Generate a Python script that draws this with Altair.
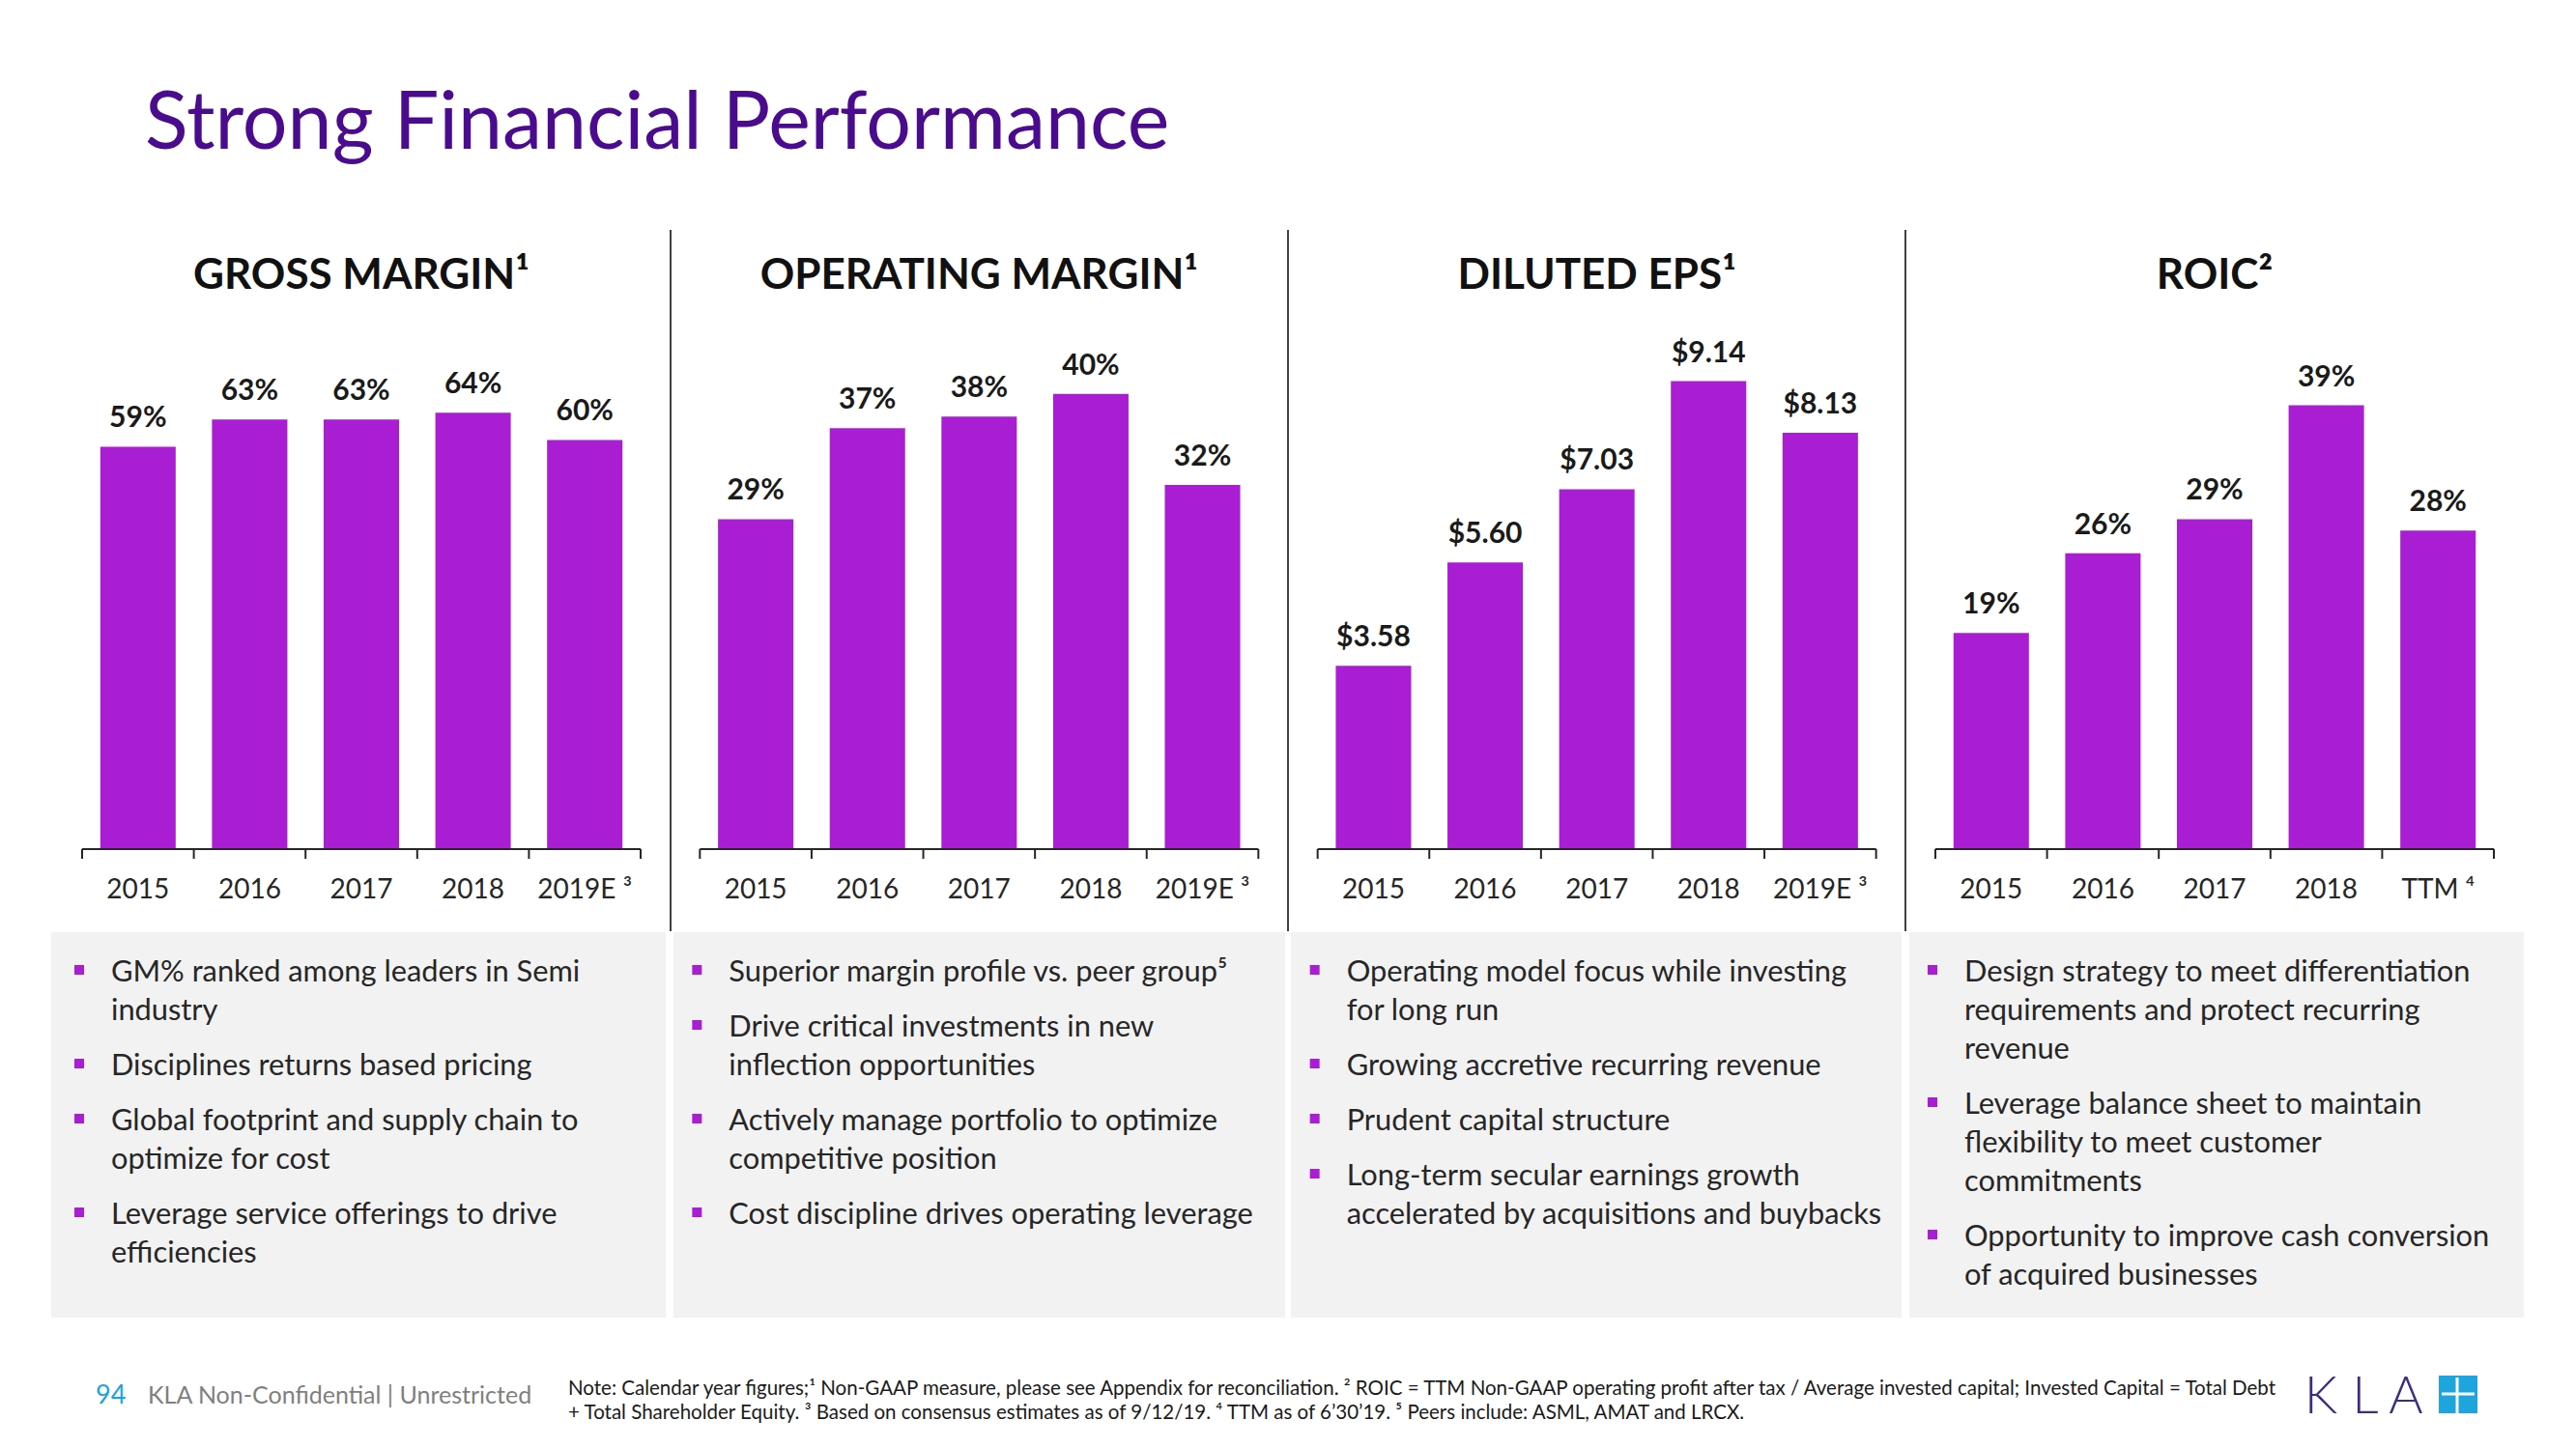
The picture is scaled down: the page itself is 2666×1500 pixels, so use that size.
import altair as alt
import pandas as pd

# ---------------- data ----------------
years_fy = ["2015", "2016", "2017", "2018", "2019E ³"]
years_ttm = ["2015", "2016", "2017", "2018", "TTM ⁴"]

gross_margin = [59, 63, 63, 64, 60]
operating_margin = [29, 37, 38, 40, 32]
diluted_eps = [3.58, 5.60, 7.03, 9.14, 8.13]
roic = [19, 26, 29, 39, 28]

panel_titles = ["GROSS MARGIN¹", "OPERATING MARGIN¹", "DILUTED EPS¹", "ROIC²"]

bullets_gm = [
    ["GM% ranked among leaders in Semi", "industry"],
    ["Disciplines returns based pricing"],
    ["Global footprint and supply chain to", "optimize for cost"],
    ["Leverage service offerings to drive", "efficiencies"],
]
bullets_om = [
    ["Superior margin profile vs. peer group⁵"],
    ["Drive critical investments in new", "inflection opportunities"],
    ["Actively manage portfolio to optimize", "competitive position"],
    ["Cost discipline drives operating leverage"],
]
bullets_eps = [
    ["Operating model focus while investing", "for long run"],
    ["Growing accretive recurring revenue"],
    ["Prudent capital structure"],
    ["Long-term secular earnings growth", "accelerated by acquisitions and buybacks"],
]
bullets_roic = [
    ["Design strategy to meet differentiation", "requirements and protect recurring", "revenue"],
    ["Leverage balance sheet to maintain", "flexibility to meet customer", "commitments"],
    ["Opportunity to improve cash conversion", "of acquired businesses"],
]

slide_title = "Strong Financial Performance"
page_number = "94"
classification = "KLA Non-Confidential | Unrestricted"
footnote_lines = [
    "Note: Calendar year figures;¹ Non-GAAP measure, please see Appendix for reconciliation. ² ROIC = TTM Non-GAAP operating profit after tax / Average invested capital; Invested Capital = Total Debt",
    "+ Total Shareholder Equity. ³ Based on consensus estimates as of 9/12/19. ⁴ TTM as of 6’30’19. ⁵ Peers include: ASML, AMAT and LRCX.",
]
logo_letters = ["K", "L", "A"]

# ---------------- layout / style ----------------
M = 8


def P(v):
    return v - M


FONT = "Lato"
BAR = "#A91ED3"
TITLE_C = "#4A0B8E"
TXT = "#262626"
GRAY_BOX = "#F2F2F2"
CYAN = "#1EA5DE"
LOGO_C = "#3F2B7F"

PANEL_X0 = 85
PANEL_STEP = 639.33
PANEL_W = 578
AXIS_Y = 879
PLOT_TOP = 340
px_per_unit = [7.06, 11.78, 53.0, 11.78]

panels = [
    (years_fy, gross_margin, lambda v: f"{v:.0f}%"),
    (years_fy, operating_margin, lambda v: f"{v:.0f}%"),
    (years_fy, diluted_eps, lambda v: f"${v:.2f}"),
    (years_ttm, roic, lambda v: f"{v:.0f}%"),
]
bullet_sets = [bullets_gm, bullets_om, bullets_eps, bullets_roic]

one = pd.DataFrame({"k": [0]})
layers = []

# gray boxes behind the bullet text
box_x = [(53, 689), (697, 1330), (1336, 1968), (1976, 2612)]
for a, b in box_x:
    layers.append(
        alt.Chart(one).mark_rect(color=GRAY_BOX).encode(
            x=alt.value(P(a)), x2=alt.value(P(b)), y=alt.value(P(965)), y2=alt.value(P(1364))
        )
    )

# vertical separators
for sx in [694, 1333, 1972]:
    layers.append(
        alt.Chart(one).mark_rule(color="#000000", strokeWidth=1.5).encode(
            x=alt.value(P(sx)), y=alt.value(P(238)), y2=alt.value(P(964))
        )
    )

# slide title
layers.append(
    alt.Chart(one).mark_text(
        font=FONT, fontSize=82.5, color=TITLE_C, align="left", baseline="alphabetic"
    ).encode(x=alt.value(P(150)), y=alt.value(P(154)), text=alt.value(slide_title))
)

for i, (cats, vals, fmt) in enumerate(panels):
    x0 = PANEL_X0 + PANEL_STEP * i
    x1 = x0 + PANEL_W
    dmax = (AXIS_Y - PLOT_TOP) / px_per_unit[i]
    df = pd.DataFrame({"cat": cats, "v": vals, "label": [fmt(v) for v in vals]})

    xs = alt.Scale(domain=cats, range=[P(x0), P(x1)], paddingInner=0.325, paddingOuter=0.1625)
    ys = alt.Scale(domain=[0, dmax], range=[P(AXIS_Y), P(PLOT_TOP)], nice=False, zero=True)
    X = alt.X("cat:N", scale=xs, axis=None, sort=cats)
    Y = alt.Y("v:Q", scale=ys, axis=None)

    # header
    layers.append(
        alt.Chart(one).mark_text(
            font=FONT, fontSize=44, fontWeight="bold", color="#111111", align="center", baseline="alphabetic"
        ).encode(x=alt.value(P((x0 + x1) / 2)), y=alt.value(P(299)), text=alt.value(panel_titles[i]))
    )
    # bars
    layers.append(alt.Chart(df).mark_bar(color=BAR).encode(x=X, y=Y))
    # value labels
    layers.append(
        alt.Chart(df).mark_text(
            font=FONT, fontSize=30, fontWeight="bold", color="#1A1A1A", dy=-20, baseline="alphabetic"
        ).encode(x=X, y=Y, text="label:N")
    )
    # category labels
    layers.append(
        alt.Chart(df).mark_text(
            font=FONT, fontSize=28, color=TXT, baseline="alphabetic"
        ).encode(x=X, y=alt.value(P(930)), text="cat:N")
    )
    # axis baseline
    layers.append(
        alt.Chart(one).mark_rule(color=TXT, strokeWidth=2).encode(
            x=alt.value(P(x0)), x2=alt.value(P(x1)), y=alt.value(P(AXIS_Y))
        )
    )
    # ticks between categories
    ts = alt.Scale(domain=cats, range=[P(x0), P(x1)], paddingInner=0, paddingOuter=0)
    layers.append(
        alt.Chart(df).mark_rule(color=TXT, strokeWidth=2).encode(
            x=alt.X("cat:N", scale=ts, axis=None, sort=cats, bandPosition=0),
            y=alt.value(P(AXIS_Y)), y2=alt.value(P(AXIS_Y + 10)),
        )
    )
    layers.append(
        alt.Chart(df.tail(1)).mark_rule(color=TXT, strokeWidth=2).encode(
            x=alt.X("cat:N", scale=alt.Scale(domain=[cats[-1]], range=[P(x1 - PANEL_W / 5), P(x1)],
                                             paddingInner=0, paddingOuter=0),
                    axis=None, bandPosition=1),
            y=alt.value(P(AXIS_Y)), y2=alt.value(P(AXIS_Y + 10)),
        )
    )

# bullets
rows, squares = [], []
for i, blist in enumerate(bullet_sets):
    bx = 82 + PANEL_STEP * i
    tx = 115 + PANEL_STEP * i
    yc = 1005
    for b in blist:
        squares.append({"x": P(bx), "y": P(yc - 1)})
        for line in b:
            rows.append({"t": line, "x": P(tx), "y": P(yc + 11)})
            yc += 40
        yc += 17
layers.append(
    alt.Chart(pd.DataFrame(squares)).mark_square(color=BAR, size=100, opacity=1).encode(
        x=alt.X("x:Q", scale=None, axis=None), y=alt.Y("y:Q", scale=None, axis=None)
    )
)
layers.append(
    alt.Chart(pd.DataFrame(rows)).mark_text(
        font=FONT, fontSize=30.8, color=TXT, align="left", baseline="alphabetic"
    ).encode(x=alt.X("x:Q", scale=None, axis=None), y=alt.Y("y:Q", scale=None, axis=None), text="t:N")
)

# footer
layers.append(
    alt.Chart(one).mark_text(font=FONT, fontSize=27, color="#1CA3DF", align="left", baseline="alphabetic").encode(
        x=alt.value(P(99)), y=alt.value(P(1453)), text=alt.value(page_number)
    )
)
layers.append(
    alt.Chart(one).mark_text(font=FONT, fontSize=25, color="#7F7F7F", align="left", baseline="alphabetic").encode(
        x=alt.value(P(153)), y=alt.value(P(1453)), text=alt.value(classification)
    )
)
for j, line in enumerate(footnote_lines):
    layers.append(
        alt.Chart(one).mark_text(font=FONT, fontSize=20.5, color="#1A1A1A", align="left", baseline="alphabetic").encode(
            x=alt.value(P(588)), y=alt.value(P(1444 + 25 * j)), text=alt.value(line)
        )
    )

# logo
logo_df = pd.DataFrame({"t": logo_letters, "x": [P(2402), P(2448), P(2490)]})
layers.append(
    alt.Chart(logo_df).mark_text(
        font=FONT, fontSize=54, fontWeight=300, color=LOGO_C, align="center", baseline="alphabetic"
    ).encode(x=alt.X("x:Q", scale=None, axis=None), y=alt.value(P(1463)), text="t:N")
)
layers.append(
    alt.Chart(one).mark_rect(color=CYAN).encode(
        x=alt.value(P(2524)), x2=alt.value(P(2564)), y=alt.value(P(1424)), y2=alt.value(P(1463))
    )
)
layers.append(
    alt.Chart(one).mark_rule(color="white", strokeWidth=3).encode(
        x=alt.value(P(2527)), x2=alt.value(P(2561)), y=alt.value(P(1443))
    )
)
layers.append(
    alt.Chart(one).mark_rule(color="white", strokeWidth=3).encode(
        x=alt.value(P(2543)), y=alt.value(P(1426)), y2=alt.value(P(1463))
    )
)

chart = (
    alt.layer(*layers)
    .resolve_scale(x="independent", y="independent")
    .properties(width=2650, height=1480, autosize=alt.AutoSizeParams(type="none"), padding=0, background="white")
    .configure_view(strokeWidth=0)
)

chart.save("out.html", embed_options={"renderer": "svg", "actions": False})
